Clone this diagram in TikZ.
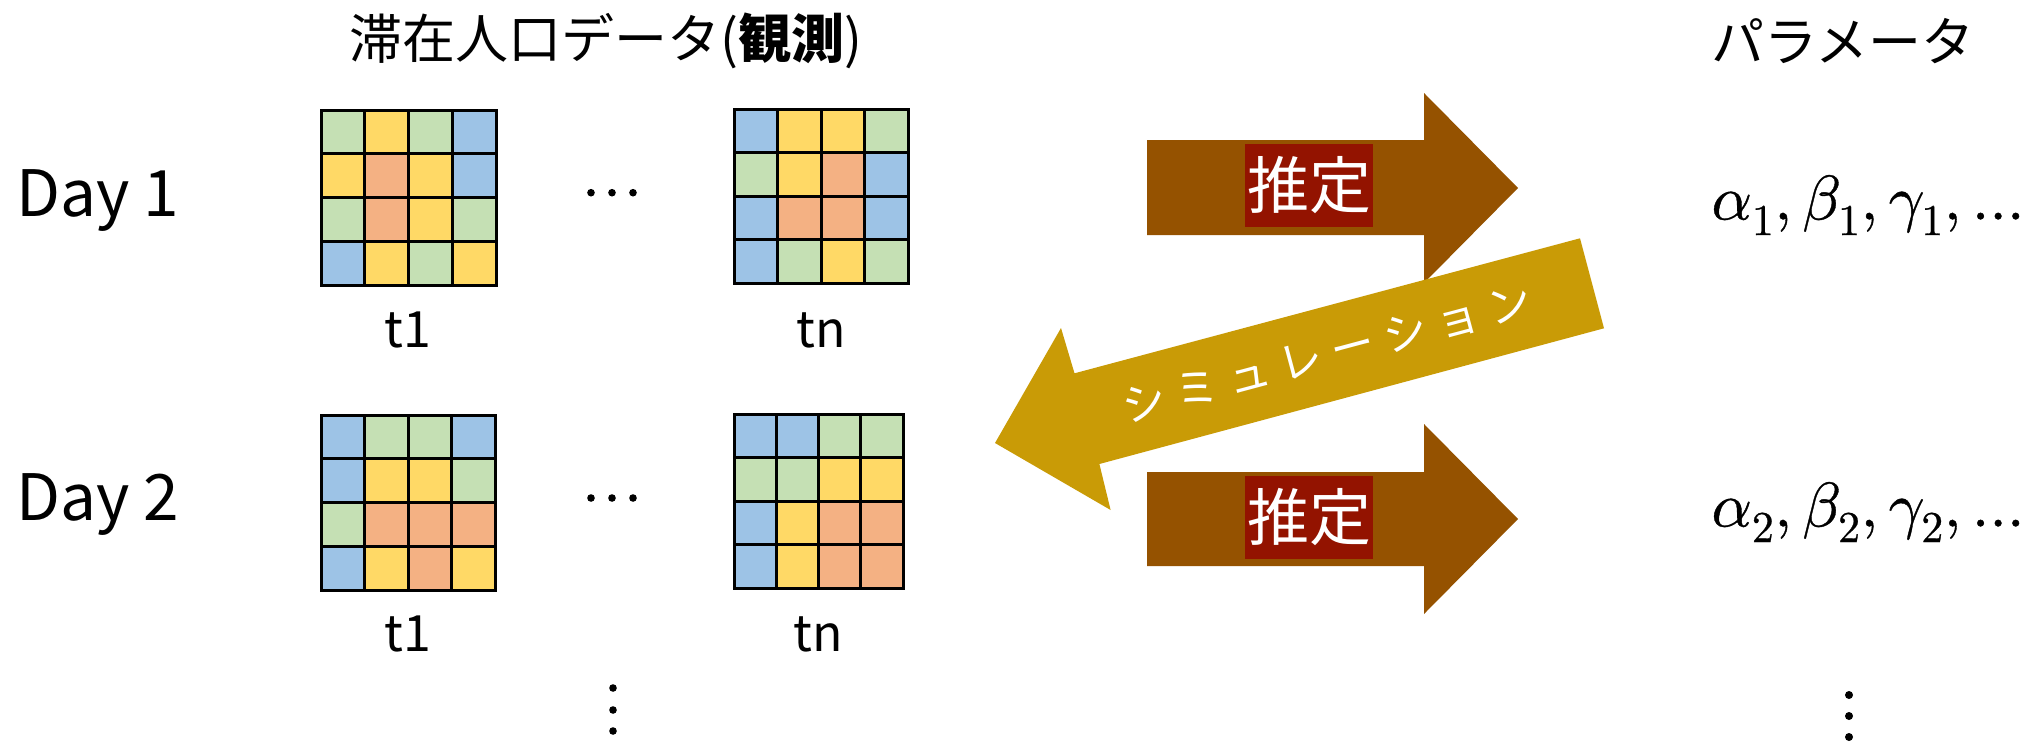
\documentclass[tikz,border=0pt]{standalone}
\usepackage{unicode-math}
\setmainfont{Noto Sans CJK JP}
\setmathfont{Latin Modern Math}[FakeBold=0.6]
\definecolor{cG}{HTML}{C5E0B4}
\definecolor{cY}{HTML}{FFD966}
\definecolor{cO}{HTML}{F4B183}
\definecolor{cB}{HTML}{9DC3E6}
\definecolor{brownA}{HTML}{955200}
\definecolor{redBox}{HTML}{931300}
\definecolor{goldA}{HTML}{C99B06}
\newcommand{\cellgrid}[5]{%
  \begin{scope}[shift={(#1,#2)}, x=#3pt, y=-#4pt]
    \foreach \c [count=\i from 0] in {#5} {
      \pgfmathtruncatemacro{\cc}{mod(\i,4)}
      \pgfmathtruncatemacro{\rr}{div(\i,4)}
      \fill[\c] (\cc,\rr) rectangle ++(1,1);
    }
    \foreach \k in {1,2,3} {
      \draw[gridline] (\k,0) -- (\k,4);
      \draw[gridline] (0,\k) -- (4,\k);
    }
    \draw[gridline] (0,0) rectangle (4,4);
  \end{scope}}
\newcommand{\gap}{\hspace{10pt}}
\tikzset{
  gridline/.style={line width=3pt, black, line join=miter},
  daylabel/.style={anchor=base west, inner sep=0pt, font=\fontsize{64}{64}\selectfont},
  tlabel/.style={inner sep=0pt, font=\fontsize{50}{50}\selectfont},
  headlabel/.style={inner sep=0pt, font=\fontsize{53}{53}\selectfont},
  estbox/.style={fill=redBox, text=white, minimum width=128pt, minimum height=83pt, inner sep=0pt, font=\fontsize{62}{62}\selectfont},
  simlabel/.style={text=white, inner sep=0pt, rotate=15, font=\fontsize{44}{44}\selectfont},
  paramlabel/.style={inner sep=0pt, font=\fontsize{63}{63}\selectfont},
  dot/.style={fill=black},
}
\begin{document}
\begin{tikzpicture}[x=1pt, y=-1pt]
\useasboundingbox (0,0) rectangle (2034,747);

% headers
\node[headlabel] (title) at (606,41) {滞在人口データ(\textbf{観測})};
\node[headlabel] (params) at (1843,41) {パラメータ};

% day labels
\node[daylabel] (day1) at (16,216) {Day 1};
\node[daylabel] (day2) at (16,520) {Day 2};

% grids
\cellgrid{321}{110}{43.75}{43.75}{cG,cY,cG,cB, cY,cO,cY,cB, cG,cO,cY,cG, cB,cY,cG,cY}
\cellgrid{734}{109}{43.5}{43.5}{cB,cY,cY,cG, cG,cY,cO,cB, cB,cO,cO,cB, cB,cG,cY,cG}
\cellgrid{321}{415}{43.5}{43.75}{cB,cG,cG,cB, cB,cY,cY,cG, cG,cO,cO,cO, cB,cY,cO,cY}
\cellgrid{734}{414}{42.25}{43.5}{cB,cB,cG,cG, cG,cG,cY,cY, cB,cY,cO,cO, cB,cY,cO,cO}

% grid labels
\node[tlabel] (t11) at (408,330) {t1};
\node[tlabel] (tn1) at (821,330) {tn};
\node[tlabel] (t12) at (408,634) {t1};
\node[tlabel] (tn2) at (818,634) {tn};

% ellipses
\foreach \xx in {591,612,633} {
  \fill[dot] (\xx,192.7) circle (3.8pt);
  \fill[dot] (\xx,498) circle (3.8pt);
}
\foreach \yy in {688,710,731} {\fill[dot] (613,\yy) circle (3.8pt);}
\foreach \yy in {695,716,737} {\fill[dot] (1849,\yy) circle (4pt);}

% estimation arrows
\fill[brownA] (1147,140) -- (1424,140) -- (1424,93) -- (1518,188) -- (1424,283) -- (1424,235) -- (1147,235) -- cycle;
\fill[brownA] (1147,472) -- (1424,472) -- (1424,424) -- (1518,519) -- (1424,614) -- (1424,566) -- (1147,566) -- cycle;
\node[estbox] (est1) at (1309,185.5) {推定};
\node[estbox] (est2) at (1309,517.5) {推定};

% simulation arrow
\fill[goldA] (995,443) -- (1061,328) -- (1074.5,373.3) -- (1580,238.3) -- (1604,328.3) -- (1099.4,464) -- (1110.6,510) -- cycle;
\node[simlabel] (sim) at (1327,354) {シ\gap ミ\gap ュ\gap レ\gap ー\gap シ\gap ョ\gap ン};

% parameters
\node[paramlabel] (p1) at (1868,205) {$\alpha_1,\beta_1,\gamma_1,\ldots$};
\node[paramlabel] (p2) at (1868,512) {$\alpha_2,\beta_2,\gamma_2,\ldots$};
\end{tikzpicture}
\end{document}
